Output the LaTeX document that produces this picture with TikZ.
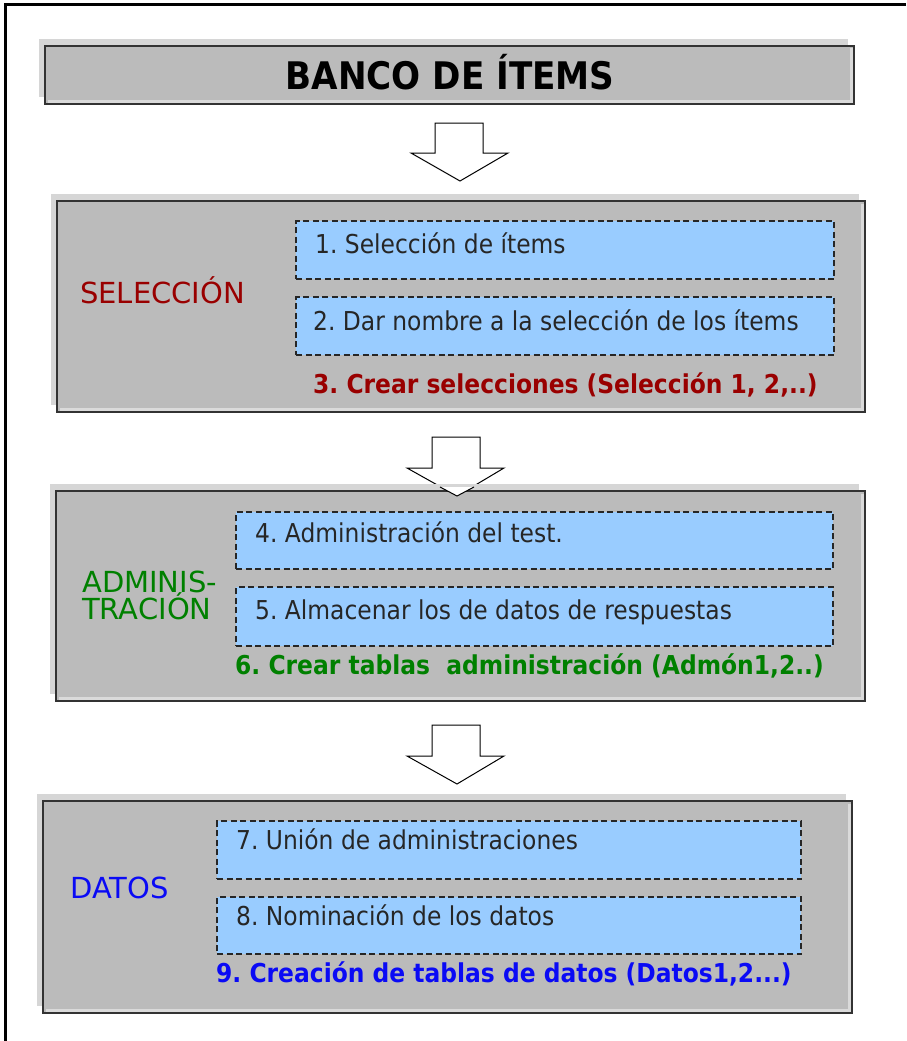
\documentclass[tikz,border=0pt]{standalone}
\usepackage{fontspec}
\usetikzlibrary{shadows}
\newfontfamily\vf{DejaVu Sans}[FakeStretch=0.9]
\newfontfamily\lf{DejaVu Sans}
\frenchspacing
\definecolor{boxgray}{RGB}{187,187,187}
\definecolor{shgray}{RGB}{214,214,214}
\definecolor{hlgray}{RGB}{218,218,218}
\definecolor{lblue}{RGB}{153,204,255}
\definecolor{dred}{RGB}{153,0,0}
\definecolor{dgreen}{RGB}{0,128,0}
\definecolor{tblue}{RGB}{10,10,245}
\tikzset{
  x=1pt, y=-1pt,
  sect/.style={draw=black!80, line width=1.3pt, fill=boxgray, anchor=north west, inner sep=0pt, outer sep=0pt,
    general shadow={fill=shgray, shadow xshift=-6pt, shadow yshift=7pt}},
  hilite/.style={draw=hlgray, line width=3pt},
  bluebox/.style={draw=black!85, dash pattern=on 6pt off 3.5pt, line width=1.5pt, fill=lblue, anchor=north west, inner sep=0pt, outer sep=0pt},
  bodytxt/.style={anchor=base west, inner sep=0pt, font=\vf\fontsize{26}{30}\selectfont, text=black!85},
  steptxt/.style={anchor=base west, inner sep=0pt, font=\vf\bfseries\fontsize{26}{30}\selectfont},
  lbltxt/.style={anchor=base west, inner sep=0pt, font=\lf\fontsize{29}{27}\selectfont, align=left},
  blockarrow/.style={draw=black, fill=white, line width=1pt, line join=miter},
}
\begin{document}
\begin{tikzpicture}
\useasboundingbox (0,0) rectangle (906,1041);
% frame
\draw[line width=3pt] (906,5) -- (5.5,5) -- (5.5,1041);

% title
\node[sect, minimum width=809pt, minimum height=58pt] (title) at (45,46) {};
\draw[hilite] ([shift={(2.5pt,2.5pt)}]title.south west) -- ([shift={(-2.5pt,2.5pt)}]title.south east) -- ([shift={(-2.5pt,-2.5pt)}]title.north east);
\node[anchor=base, inner sep=0pt, font=\vf\bfseries\fontsize{38}{40}\selectfont] (titletxt) at (450,89) {BANCO DE ÍTEMS};

% arrow 1
\draw[blockarrow] (435,123) -- (483,123) -- (483,153) -- (508,153) -- (460,181) -- (411,153) -- (435,153) -- cycle;

% section 1
\node[sect, minimum width=808pt, minimum height=211pt] (s1) at (57,201) {};
\draw[hilite] ([shift={(2.5pt,2.5pt)}]s1.south west) -- ([shift={(-2.5pt,2.5pt)}]s1.south east) -- ([shift={(-2.5pt,-2.5pt)}]s1.north east);
\node[bluebox, minimum width=538pt, minimum height=58pt] (b1) at (296,221) {};
\node[bluebox, minimum width=538pt, minimum height=58pt] (b2) at (296,297) {};
\node[lbltxt, text=dred] (l1) at (80,303) {SELECCIÓN};
\node[bodytxt] (t1) at (315,253) {1. Selección de ítems};
\node[bodytxt] (t2) at (313,330) {2. Dar nombre a la selección de los ítems};
\node[steptxt, text=dred] (t3) at (313,393) {3. Crear selecciones (Selección 1, 2,..)};

% arrow 2
\draw[blockarrow] (432,437) -- (480,437) -- (480,468) -- (504,468) -- (457,496) -- (407,468) -- (432,468) -- cycle;

% section 2
\node[sect, minimum width=809pt, minimum height=210pt] (s2) at (56,491) {};
\draw[hilite] ([shift={(2.5pt,2.5pt)}]s2.south west) -- ([shift={(-2.5pt,2.5pt)}]s2.south east) -- ([shift={(-2.5pt,-2.5pt)}]s2.north east);
% arrow tip overlapping section 2 top
\draw[blockarrow] (440,487) -- (457,496) -- (474,487);
\node[bluebox, minimum width=597pt, minimum height=57pt] (b4) at (236,512) {};
\node[bluebox, minimum width=597pt, minimum height=59pt] (b5) at (236,587) {};
\node[lbltxt, text=dgreen] (l2a) at (82,592) {ADMINIS-};
\node[lbltxt, text=dgreen] (l2b) at (82,619) {TRACIÓN};
\node[bodytxt] (t4) at (255,542) {4. Administración del test.};
\node[bodytxt] (t5) at (255,619) {5. Almacenar los de datos de respuestas};
\node[steptxt, text=dgreen] (t6) at (235,674) {6. Crear tablas\ \ administración (Admón1,2..)};

% arrow 3
\draw[blockarrow] (432,725) -- (480,725) -- (480,756) -- (504,756) -- (457,784) -- (407,756) -- (432,756) -- cycle;

% section 3
\node[sect, minimum width=809pt, minimum height=212pt] (s3) at (43,801) {};
\draw[hilite] ([shift={(2.5pt,2.5pt)}]s3.south west) -- ([shift={(-2.5pt,2.5pt)}]s3.south east) -- ([shift={(-2.5pt,-2.5pt)}]s3.north east);
\node[bluebox, minimum width=584pt, minimum height=58pt] (b7) at (217,821) {};
\node[bluebox, minimum width=584pt, minimum height=57pt] (b8) at (217,897) {};
\node[lbltxt, text=tblue] (l3) at (70,898) {DATOS};
\node[bodytxt] (t7) at (236,849) {7. Unión de administraciones};
\node[bodytxt] (t8) at (236,925) {8. Nominación de los datos};
\node[steptxt, text=tblue] (t9) at (216,982) {9. Creación de tablas de datos (Datos1,2...)};
\end{tikzpicture}
\end{document}
